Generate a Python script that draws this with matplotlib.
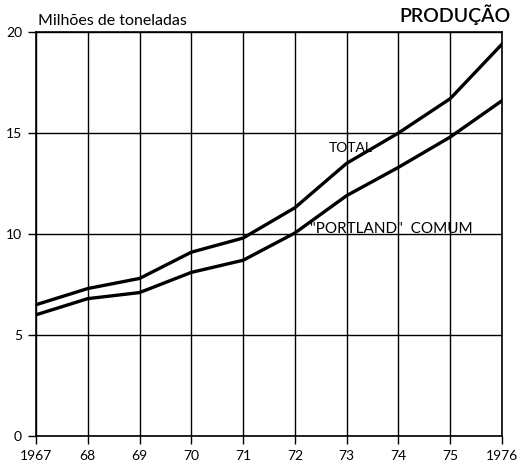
import matplotlib.pyplot as plt

plt.rcParams['font.family'] = ['Lato', 'DejaVu Sans']

anos = [1967, 1968, 1969, 1970, 1971, 1972, 1973, 1974, 1975, 1976]
rotulos_x = ['1967', '68', '69', '70', '71', '72', '73', '74', '75', '1976']
total = [6.5, 7.3, 7.8, 9.1, 9.8, 11.3, 13.5, 15.0, 16.7, 19.4]
portland = [6.0, 6.8, 7.1, 8.1, 8.7, 10.05, 11.9, 13.3, 14.8, 16.6]
ticks_y = [0, 5, 10, 15, 20]


def main():
    fig = plt.figure(figsize=(5.17, 4.74), dpi=100)
    ax = fig.add_axes([36 / 517, 38 / 474, 466 / 517, 404 / 474])

    ax.plot(anos, total, color='black', lw=2.4, solid_joinstyle='miter')
    ax.plot(anos, portland, color='black', lw=2.4, solid_joinstyle='miter')

    ax.set_xlim(anos[0], anos[-1])
    ax.set_ylim(0, 20)
    ax.set_xticks(anos)
    ax.set_xticklabels(rotulos_x)
    ax.set_yticks(ticks_y)
    ax.grid(True, color='black', lw=1.0)
    for s in ax.spines.values():
        s.set_linewidth(1.2)
    ax.tick_params(axis='both', direction='out', length=6, width=1.0,
                   labelsize=10, pad=4)
    # last year label nudged left so it stays on the canvas
    ax.get_xticklabels()[-1].set_x(anos[-1] - 0.06)

    ax.text(0.005, 1.01, 'Milhões de toneladas', transform=ax.transAxes,
            fontsize=11.5, ha='left', va='bottom')
    fig.text(511 / 517, 1 - 15 / 474, 'PRODUÇÃO', fontsize=14,
             fontweight='semibold', ha='right', va='center')

    ax.text(1972.65, 14.25, 'TOTAL', fontsize=10, ha='left', va='center')
    ax.text(1972.3, 10.25, '"PORTLAND"  COMUM', fontsize=11,
            ha='left', va='center')

    fig.savefig('out.png', dpi=100, facecolor='white')


if __name__ == "__main__":
    main()
